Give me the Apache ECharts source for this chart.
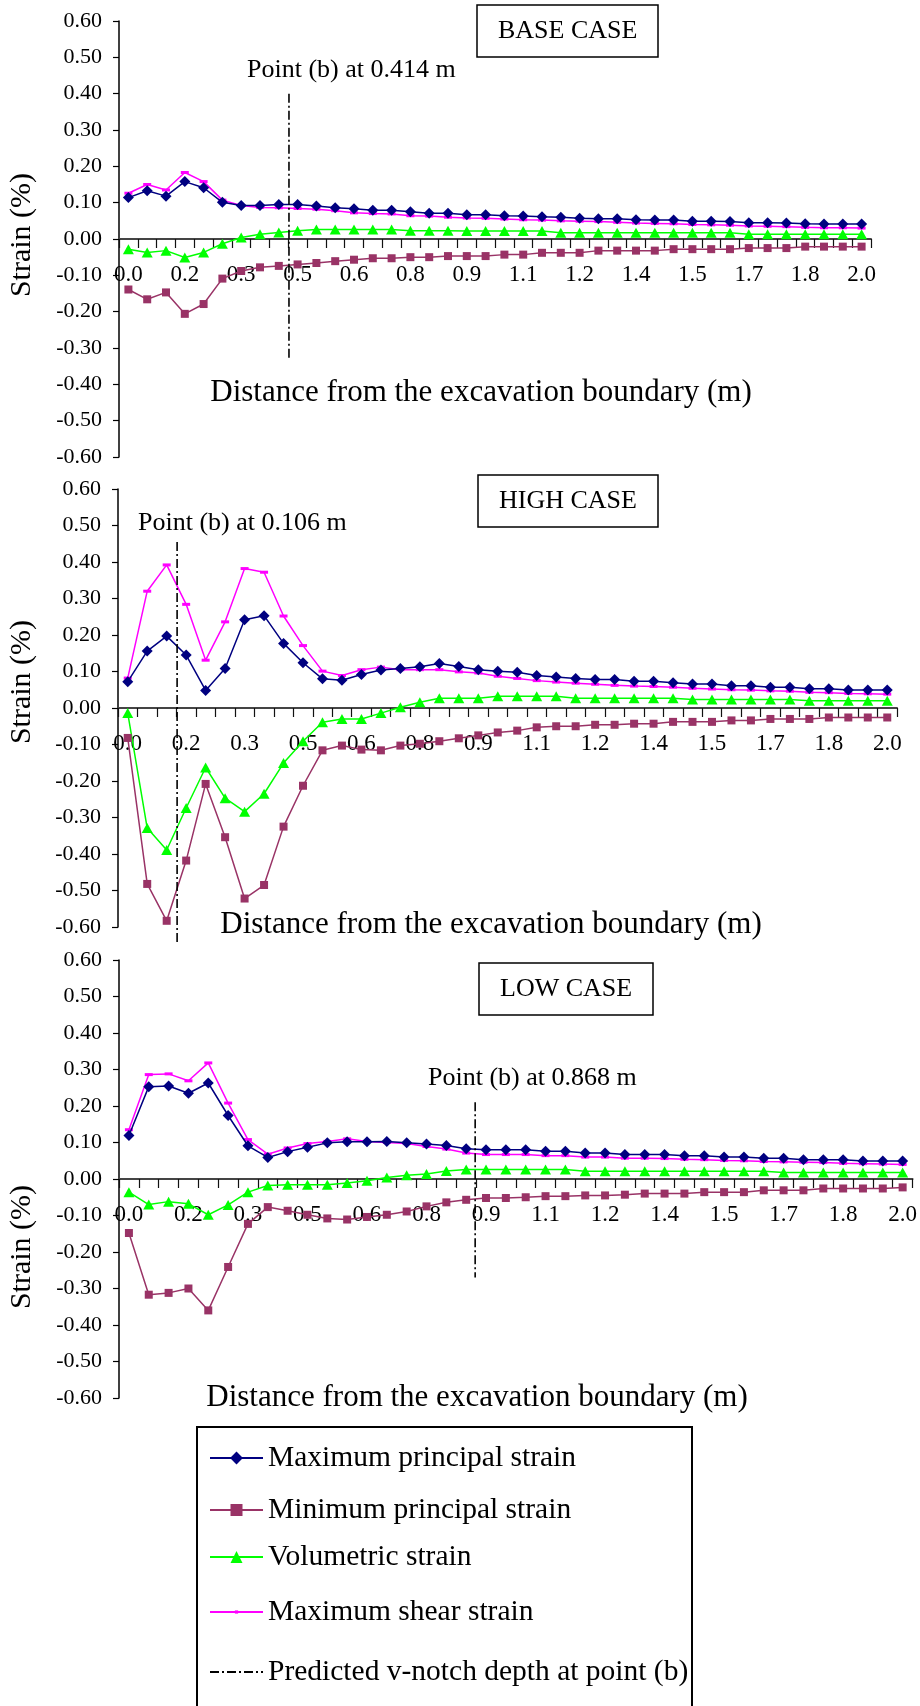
<!DOCTYPE html>
<html>
<head>
<meta charset="utf-8">
<script src="https://cdn.jsdelivr.net/npm/echarts@6/dist/echarts.min.js"></script>
<style>
html, body { margin: 0; padding: 0; background: #fff; }
#chart { width: 920px; height: 1706px; }
</style>
</head>
<body>
<div id="chart"></div>
<script>
// distance from the excavation boundary, one label per node (40 nodes, 0 to 2.0 m)
var distLabels = ["0.0","0.1","0.1","0.2","0.2","0.3","0.3","0.4","0.4","0.5",
  "0.5","0.6","0.6","0.7","0.7","0.8","0.8","0.9","0.9","1.0",
  "1.0","1.1","1.1","1.2","1.2","1.3","1.3","1.4","1.4","1.5",
  "1.5","1.6","1.6","1.7","1.7","1.8","1.8","1.9","1.9","2.0"];

// BASE CASE
var baseMaxPrincipal = [0.114,0.133,0.118,0.158,0.141,0.101,0.092,0.092,0.095,0.095,
  0.091,0.086,0.083,0.079,0.079,0.075,0.071,0.071,0.067,0.067,
  0.064,0.063,0.061,0.060,0.057,0.056,0.056,0.053,0.052,0.052,
  0.049,0.049,0.048,0.045,0.045,0.044,0.042,0.041,0.041,0.041];
var baseMinPrincipal = [-0.139,-0.166,-0.147,-0.206,-0.179,-0.109,-0.088,-0.078,-0.074,-0.070,
  -0.066,-0.061,-0.057,-0.053,-0.053,-0.050,-0.050,-0.047,-0.047,-0.047,
  -0.043,-0.043,-0.038,-0.038,-0.038,-0.032,-0.032,-0.032,-0.032,-0.028,
  -0.028,-0.028,-0.028,-0.025,-0.025,-0.025,-0.021,-0.021,-0.021,-0.021];
var baseVolumetric = [-0.028,-0.037,-0.032,-0.051,-0.037,-0.013,0.004,0.013,0.018,0.023,
  0.026,0.026,0.026,0.026,0.026,0.023,0.023,0.023,0.022,0.022,
  0.022,0.022,0.022,0.017,0.017,0.017,0.017,0.017,0.017,0.017,
  0.017,0.017,0.017,0.013,0.013,0.013,0.013,0.013,0.013,0.013];
var baseMaxShear = [0.126,0.150,0.135,0.183,0.158,0.107,0.092,0.087,0.086,0.084,
  0.082,0.078,0.072,0.070,0.069,0.064,0.063,0.060,0.058,0.057,
  0.055,0.053,0.052,0.050,0.049,0.048,0.046,0.044,0.043,0.042,
  0.040,0.039,0.038,0.036,0.035,0.034,0.032,0.031,0.031,0.030];

// HIGH CASE
var highMaxPrincipal = [0.072,0.156,0.197,0.145,0.048,0.108,0.242,0.253,0.177,0.124,
  0.080,0.076,0.092,0.104,0.108,0.113,0.122,0.114,0.105,0.101,
  0.098,0.089,0.085,0.081,0.078,0.078,0.073,0.073,0.069,0.066,
  0.066,0.061,0.061,0.057,0.057,0.053,0.053,0.049,0.049,0.049];
var highMinPrincipal = [-0.082,-0.482,-0.583,-0.418,-0.208,-0.354,-0.522,-0.485,-0.325,-0.213,
  -0.116,-0.103,-0.114,-0.116,-0.103,-0.098,-0.091,-0.083,-0.075,-0.067,
  -0.062,-0.053,-0.050,-0.050,-0.046,-0.046,-0.043,-0.043,-0.038,-0.038,
  -0.038,-0.034,-0.034,-0.030,-0.030,-0.030,-0.026,-0.026,-0.026,-0.026];
var highVolumetric = [-0.014,-0.329,-0.389,-0.274,-0.163,-0.247,-0.284,-0.235,-0.151,-0.091,
  -0.039,-0.030,-0.030,-0.014,0.002,0.016,0.027,0.027,0.027,0.032,
  0.032,0.032,0.032,0.027,0.027,0.027,0.027,0.027,0.027,0.023,
  0.023,0.023,0.023,0.023,0.023,0.020,0.020,0.020,0.020,0.020];
var highMaxShear = [0.082,0.320,0.392,0.284,0.131,0.236,0.382,0.372,0.252,0.171,
  0.101,0.089,0.105,0.112,0.105,0.105,0.105,0.099,0.096,0.087,
  0.081,0.075,0.071,0.068,0.065,0.062,0.060,0.059,0.057,0.054,
  0.052,0.050,0.049,0.047,0.046,0.043,0.042,0.040,0.039,0.038];

// LOW CASE
var lowMaxPrincipal = [0.119,0.253,0.255,0.235,0.263,0.174,0.091,0.059,0.075,0.087,
  0.099,0.102,0.102,0.103,0.099,0.096,0.092,0.083,0.080,0.080,
  0.080,0.076,0.076,0.071,0.071,0.067,0.067,0.067,0.064,0.064,
  0.060,0.060,0.057,0.057,0.053,0.053,0.053,0.049,0.049,0.049];
var lowMinPrincipal = [-0.148,-0.317,-0.312,-0.300,-0.360,-0.241,-0.123,-0.077,-0.087,-0.098,
  -0.108,-0.111,-0.104,-0.098,-0.089,-0.075,-0.064,-0.057,-0.052,-0.052,
  -0.050,-0.047,-0.047,-0.045,-0.045,-0.043,-0.040,-0.040,-0.040,-0.036,
  -0.036,-0.036,-0.031,-0.031,-0.031,-0.026,-0.026,-0.026,-0.026,-0.023];
var lowVolumetric = [-0.036,-0.070,-0.062,-0.068,-0.098,-0.071,-0.036,-0.018,-0.016,-0.016,
  -0.016,-0.011,-0.005,0.004,0.010,0.014,0.022,0.026,0.026,0.026,
  0.026,0.026,0.026,0.021,0.021,0.021,0.021,0.021,0.021,0.021,
  0.021,0.021,0.021,0.018,0.018,0.018,0.018,0.018,0.018,0.018];
var lowMaxShear = [0.135,0.286,0.288,0.269,0.318,0.208,0.108,0.068,0.085,0.097,
  0.103,0.110,0.103,0.100,0.097,0.089,0.082,0.071,0.067,0.067,
  0.067,0.064,0.064,0.060,0.060,0.057,0.057,0.056,0.054,0.053,
  0.051,0.050,0.048,0.047,0.046,0.045,0.043,0.042,0.041,0.040];

// predicted v-notch depth at point (b): x in m (as drawn), vertical extent in %
var caseTitles = ["BASE CASE", "HIGH CASE", "LOW CASE"];
var notchLabels = ["Point (b) at 0.414 m", "Point (b) at 0.106 m", "Point (b) at 0.868 m"];
var notchX = [0.438, 0.130, 0.895];
var notchTop = [0.40, 0.455, 0.21];
var notchBottom = [-0.33, -0.645, -0.27];

var legendNames = ["Maximum principal strain", "Minimum principal strain",
  "Volumetric strain", "Maximum shear strain", "Predicted v-notch depth at point (b)"];

var FONT = "'Liberation Serif', 'Times New Roman', serif";
var caseData = [
  [baseMaxPrincipal, baseMinPrincipal, baseVolumetric, baseMaxShear],
  [highMaxPrincipal, highMinPrincipal, highVolumetric, highMaxShear],
  [lowMaxPrincipal, lowMinPrincipal, lowVolumetric, lowMaxShear]
];

// layout of the three panels
var grids = [
  { left: 119, top: 21, width: 752, height: 436 },
  { left: 118, top: 489, width: 779, height: 438 },
  { left: 119, top: 960, width: 795, height: 438 }
];
var titlePos = [[477, 5], [478, 475], [479, 963]];
var distTitlePos = [[481, 393], [491, 925], [477, 1398]];
var strainTitleY = [235, 682, 1247];
var notchLabelPos = [[247, 70], [138, 523], [428, 1078]];

var styles = [
  { color: "#000080", symbol: "diamond", symbolSize: [11, 11] },
  { color: "#993366", symbol: "rect", symbolSize: 8 },
  { color: "#00ff00", symbol: "triangle", symbolSize: [11, 10] },
  { color: "#ff00ff", symbol: "rect", symbolSize: [8, 3] }
];

var xAxes = [], yAxes = [], series = [], titles = [], graphics = [];
var xMin = -1 / 39, xMax = 2 + 1 / 39; // category centres map to 0..2 m

grids.forEach(function (g, k) {
  // y range is symmetric, so the zero line sits at mid height
  xAxes.push({
    type: "category", gridIndex: k, data: distLabels, position: "bottom",
    offset: -g.height / 2,
    axisLine: { show: true, onZero: false, lineStyle: { color: "#444", width: 2 } },
    axisTick: { show: true, interval: 0, alignWithLabel: false, length: 9,
      lineStyle: { color: "#111", width: 1.2 } },
    axisLabel: { interval: 2, color: "#000", fontSize: 23, fontFamily: FONT, margin: 24 }
  });
  xAxes.push({ type: "value", gridIndex: k, show: false, min: xMin, max: xMax });
  yAxes.push({
    type: "value", gridIndex: k, min: -0.6, max: 0.6, interval: 0.1,
    axisLine: { show: true, onZero: false, lineStyle: { color: "#000", width: 1.5 } },
    axisTick: { show: true, length: 6, lineStyle: { color: "#000", width: 1.2 } },
    splitLine: { show: false },
    axisLabel: {
      color: "#000", fontSize: 22, fontFamily: FONT, margin: 17,
      formatter: function (v) { return Math.abs(v) < 1e-9 ? "0.00" : v.toFixed(2); }
    }
  });

  caseData[k].forEach(function (vals, s) {
    series.push({
      name: legendNames[s], type: "line",
      xAxisIndex: 2 * k, yAxisIndex: k, data: vals,
      symbol: styles[s].symbol, symbolSize: styles[s].symbolSize, showAllSymbol: true,
      lineStyle: { color: styles[s].color, width: 1.5 },
      itemStyle: { color: styles[s].color },
      z: 2 + (s === 0 ? 2 : 0)
    });
  });
  series.push({
    name: legendNames[4], type: "line",
    xAxisIndex: 2 * k + 1, yAxisIndex: k, clip: false,
    data: [[notchX[k], notchTop[k]], [notchX[k], notchBottom[k]]],
    symbol: "none",
    lineStyle: { color: "#000", width: 1.6, type: [9, 3, 2, 3] },
    itemStyle: { color: "#000" },
    z: 5
  });

  titles.push({
    text: caseTitles[k], left: titlePos[k][0], top: titlePos[k][1],
    borderColor: "#000", borderWidth: 1.5, padding: [13, 21],
    textStyle: { fontFamily: FONT, fontSize: 26, fontWeight: "normal", color: "#000", lineHeight: 26 }
  });

  graphics.push({
    type: "text", x: 22, y: strainTitleY[k], rotation: Math.PI / 2,
    style: { text: "Strain (%)", fontFamily: FONT, fontSize: 30, fill: "#000",
      textAlign: "center", textVerticalAlign: "middle" }
  });
  graphics.push({
    type: "text", x: distTitlePos[k][0], y: distTitlePos[k][1],
    style: { text: "Distance from the excavation boundary (m)", fontFamily: FONT, fontSize: 31,
      fill: "#000", textAlign: "center", textVerticalAlign: "middle" }
  });
  graphics.push({
    type: "text", x: notchLabelPos[k][0], y: notchLabelPos[k][1],
    style: { text: notchLabels[k], fontFamily: FONT, fontSize: 26, fill: "#000",
      textAlign: "left", textVerticalAlign: "middle" }
  });
});

// legend frame (runs off the bottom of the figure)
graphics.push({
  type: "rect", shape: { x: 197, y: 1427, width: 495, height: 320 },
  style: { fill: "none", stroke: "#000", lineWidth: 2 }
});

var legendY = [1458, 1510, 1557, 1612, 1672];
var legendIconH = [16, 15, 15, 4, 6];
var legends = legendNames.map(function (n, i) {
  var lg = {
    data: [n], left: 209, top: legendY[i] - 15, padding: 0,
    itemWidth: 53, itemHeight: legendIconH[i], selectedMode: false,
    lineStyle: { width: 2 },
    textStyle: { fontFamily: FONT, fontSize: 29.5, color: "#000", lineHeight: 30 }
  };
  if (i === 4) lg.itemStyle = { color: "rgba(0,0,0,0)", borderWidth: 0 };
  return lg;
});

var chart = echarts.init(document.getElementById("chart"));
chart.setOption({
  animation: false,
  backgroundColor: "#fff",
  title: titles,
  legend: legends,
  grid: grids,
  xAxis: xAxes,
  yAxis: yAxes,
  series: series,
  graphic: graphics
});
</script>
</body>
</html>
